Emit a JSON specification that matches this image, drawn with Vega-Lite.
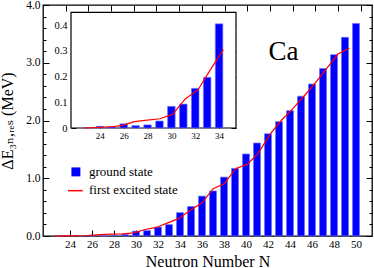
{
  "$schema": "https://vega.github.io/schema/vega-lite/v6.json",
  "width": 329,
  "height": 231,
  "autosize": "none",
  "padding": {"left": 43, "top": 5, "right": 2, "bottom": 32},
  "config": {
    "view": {"stroke": "black", "strokeWidth": 1.3},
    "font": "Times New Roman, Liberation Serif, DejaVu Serif, serif",
    "text": {"font": "Times New Roman, Liberation Serif, DejaVu Serif, serif"},
    "axis": {"domain": false, "grid": false, "tickColor": "black", "labelColor": "black", "labelFont": "Times New Roman, Liberation Serif, DejaVu Serif, serif", "titleFont": "Times New Roman, Liberation Serif, DejaVu Serif, serif", "titleFontWeight": "normal", "titleColor": "black", "zindex": 1, "tickWidth": 1}
  },
  "data": {"values": [
    {"N": 23, "ground": 0.002, "excited": 0.0},
    {"N": 24, "ground": 0.0065, "excited": 0.002},
    {"N": 25, "ground": 0.005, "excited": 0.004},
    {"N": 26, "ground": 0.016, "excited": 0.009},
    {"N": 27, "ground": 0.009, "excited": 0.025},
    {"N": 28, "ground": 0.012, "excited": 0.031},
    {"N": 29, "ground": 0.027, "excited": 0.036},
    {"N": 30, "ground": 0.084, "excited": 0.053},
    {"N": 31, "ground": 0.093, "excited": 0.113},
    {"N": 32, "ground": 0.154, "excited": 0.148},
    {"N": 33, "ground": 0.197, "excited": 0.228},
    {"N": 34, "ground": 0.405, "excited": 0.305},
    {"N": 35, "ground": 0.51, "excited": 0.45},
    {"N": 36, "ground": 0.69, "excited": 0.57},
    {"N": 37, "ground": 0.78, "excited": 0.82},
    {"N": 38, "ground": 1.02, "excited": 0.91},
    {"N": 39, "ground": 1.17, "excited": 1.17},
    {"N": 40, "ground": 1.42, "excited": 1.24},
    {"N": 41, "ground": 1.61, "excited": 1.44},
    {"N": 42, "ground": 1.77, "excited": 1.76},
    {"N": 43, "ground": 1.98, "excited": 2.0},
    {"N": 44, "ground": 2.17, "excited": 2.2},
    {"N": 45, "ground": 2.42, "excited": 2.42},
    {"N": 46, "ground": 2.63, "excited": 2.65},
    {"N": 47, "ground": 2.9, "excited": 2.9},
    {"N": 48, "ground": 3.14, "excited": 3.15},
    {"N": 49, "ground": 3.44, "excited": 3.25},
    {"N": 50, "ground": 3.68, "excited": null}
  ]},
  "resolve": {"scale": {"x": "independent", "y": "independent"}, "axis": {"x": "independent", "y": "independent"}},
  "layer": [
    {
      "mark": {"type": "bar", "size": 7, "color": "#0000ff", "stroke": "#7070ff", "strokeWidth": 0.7},
      "encoding": {
        "x": {"field": "N", "type": "quantitative", "scale": {"domain": [22, 51], "nice": false, "zero": false},
          "axis": {"orient": "bottom", "values": [24, 26, 28, 30, 32, 34, 36, 38, 40, 42, 44, 46, 48, 50], "tickSize": -6, "labelPadding": 8, "labelFontSize": 11, "title": "Neutron Number N", "titleFontSize": 16, "titlePadding": 4}},
        "y": {"field": "ground", "type": "quantitative", "scale": {"domain": [0, 4], "nice": false},
          "axis": {"orient": "left", "values": [0, 0.2, 0.4, 0.6, 0.8, 1, 1.2, 1.4, 1.6, 1.8, 2, 2.2, 2.4, 2.6, 2.8, 3, 3.2, 3.4, 3.6, 3.8, 4],
            "labelExpr": "abs(datum.value - round(datum.value)) < 0.001 ? format(datum.value, '.1f') : ''",
            "tickSize": {"condition": {"test": "abs(datum.value - round(datum.value)) < 0.001", "value": -6}, "value": -3},
            "labelPadding": 9, "labelFontSize": 11.5, "title": "ΔE₃ₙ,ᵣₑₛ (MeV)", "titleFontSize": 16, "titlePadding": 10}}
      }
    },
    {
      "mark": {"type": "line", "color": "#ff0000", "strokeWidth": 1.2},
      "encoding": {
        "x": {"field": "N", "type": "quantitative", "scale": {"domain": [22, 51], "nice": false, "zero": false},
          "axis": {"orient": "top", "values": [24, 26, 28, 30, 32, 34, 36, 38, 40, 42, 44, 46, 48, 50], "tickSize": -6, "labels": false, "title": null}},
        "y": {"field": "excited", "type": "quantitative", "scale": {"domain": [0, 4], "nice": false},
          "axis": {"orient": "right", "values": [0, 0.2, 0.4, 0.6, 0.8, 1, 1.2, 1.4, 1.6, 1.8, 2, 2.2, 2.4, 2.6, 2.8, 3, 3.2, 3.4, 3.6, 3.8, 4], "labels": false,
            "tickSize": {"condition": {"test": "abs(datum.value - round(datum.value)) < 0.001", "value": -6}, "value": -3}, "title": null}}
      }
    },
    {
      "data": {"values": [{}]},
      "mark": {"type": "text", "fontSize": 27, "align": "center", "baseline": "alphabetic", "color": "black"},
      "encoding": {
        "x": {"datum": 43.2, "type": "quantitative", "scale": {"domain": [22, 51], "nice": false, "zero": false}, "axis": null},
        "y": {"datum": 3.05, "type": "quantitative", "scale": {"domain": [0, 4], "nice": false}, "axis": null},
        "text": {"value": "Ca"}
      }
    },
    {
      "data": {"values": [{}]},
      "mark": {"type": "point", "shape": "square", "filled": true, "size": 80, "color": "#0000ff", "opacity": 1},
      "encoding": {
        "x": {"datum": 24.9, "type": "quantitative", "scale": {"domain": [22, 51], "nice": false, "zero": false}, "axis": null},
        "y": {"datum": 1.11, "type": "quantitative", "scale": {"domain": [0, 4], "nice": false}, "axis": null}
      }
    },
    {
      "data": {"values": [{}]},
      "mark": {"type": "rule", "color": "#ff0000", "strokeWidth": 1.5},
      "encoding": {
        "x": {"datum": 24.2, "type": "quantitative", "scale": {"domain": [22, 51], "nice": false, "zero": false}, "axis": null},
        "x2": {"datum": 25.5},
        "y": {"datum": 0.785, "type": "quantitative", "scale": {"domain": [0, 4], "nice": false}, "axis": null}
      }
    },
    {
      "data": {"values": [{}]},
      "mark": {"type": "text", "fontSize": 13, "align": "left", "baseline": "alphabetic", "color": "black"},
      "encoding": {
        "x": {"datum": 26.05, "type": "quantitative", "scale": {"domain": [22, 51], "nice": false, "zero": false}, "axis": null},
        "y": {"datum": 1.04, "type": "quantitative", "scale": {"domain": [0, 4], "nice": false}, "axis": null},
        "text": {"value": "ground state"}
      }
    },
    {
      "data": {"values": [{}]},
      "mark": {"type": "text", "fontSize": 13, "align": "left", "baseline": "alphabetic", "color": "black"},
      "encoding": {
        "x": {"datum": 26.05, "type": "quantitative", "scale": {"domain": [22, 51], "nice": false, "zero": false}, "axis": null},
        "y": {"datum": 0.725, "type": "quantitative", "scale": {"domain": [0, 4], "nice": false}, "axis": null},
        "text": {"value": "first excited state"}
      }
    },
    {
      "data": {"values": [{}]},
      "mark": {"type": "rect", "fill": "white", "stroke": "black", "strokeWidth": 1.2},
      "encoding": {
        "x": {"datum": 22, "type": "quantitative", "scale": {"domain": [22, 35], "range": [28, 193], "nice": false, "zero": false}, "axis": null},
        "x2": {"datum": 35},
        "y": {"datum": 0, "type": "quantitative", "scale": {"domain": [0, 0.45], "range": [123, 7.3], "nice": false}, "axis": null},
        "y2": {"datum": 0.45}
      }
    },
    {
      "transform": [{"filter": "datum.N <= 34"}],
      "mark": {"type": "bar", "size": 7.5, "color": "#0000ff", "stroke": "#7070ff", "strokeWidth": 0.7},
      "encoding": {
        "x": {"field": "N", "type": "quantitative", "scale": {"domain": [22, 35], "range": [28, 193], "nice": false, "zero": false},
          "axis": {"orient": "bottom", "offset": -108, "values": [24, 26, 28, 30, 32, 34], "tickSize": -5, "labelPadding": 8, "labelFontSize": 9, "title": null}},
        "y": {"field": "ground", "type": "quantitative", "scale": {"domain": [0, 0.45], "range": [123, 7.3], "nice": false},
          "axis": {"orient": "left", "offset": -28, "values": [0, 0.1, 0.2, 0.3, 0.4], "labelExpr": "datum.value == 0 ? '0' : format(datum.value, '.1f')", "tickSize": -5, "labelPadding": 9, "labelFontSize": 10.5, "title": null}}
      }
    },
    {
      "transform": [{"filter": "datum.N <= 34"}],
      "mark": {"type": "line", "color": "#ff0000", "strokeWidth": 1.2},
      "encoding": {
        "x": {"field": "N", "type": "quantitative", "scale": {"domain": [22, 35], "range": [28, 193], "nice": false, "zero": false}, "axis": null},
        "y": {"field": "excited", "type": "quantitative", "scale": {"domain": [0, 0.45], "range": [123, 7.3], "nice": false},
          "axis": {"orient": "right", "offset": -136, "values": [0, 0.1, 0.2, 0.3, 0.4], "labels": false, "tickSize": -5, "title": null}}
      }
    }
  ]
}
